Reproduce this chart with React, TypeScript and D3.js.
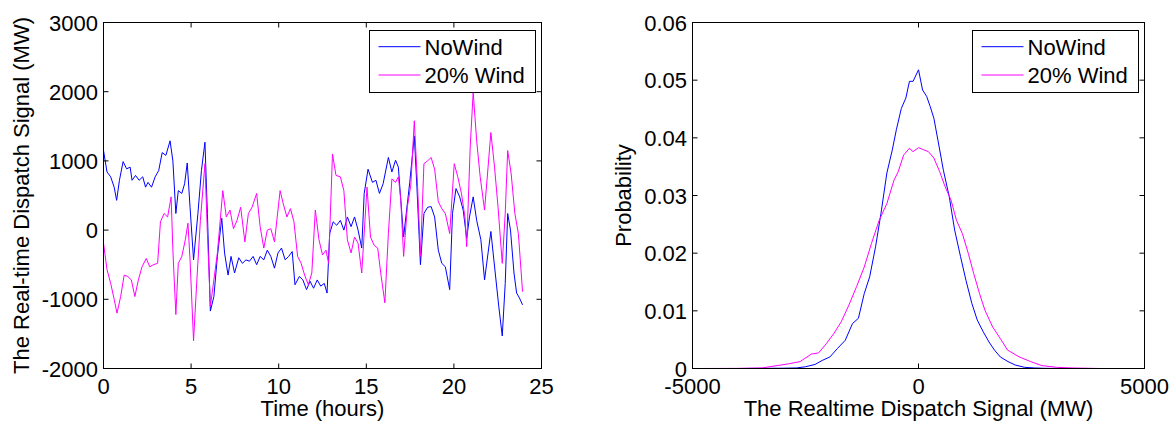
import React from 'react';
import * as d3 from 'd3';

// ---------- data ----------
const seriesNames = ['NoWind', '20% Wind'];
const seriesColors = ['#0000ff', '#ff00ff'];

const hoursNoWind = [0, 0.20, 0.41, 0.61, 0.75, 0.91, 1.12, 1.32, 1.52, 1.63, 1.83, 2.03, 2.24, 2.40, 2.54, 2.74, 2.95, 3.15, 3.35, 3.56, 3.80, 3.96, 4.13, 4.27, 4.47, 4.63, 4.78, 4.94, 5.14, 5.39, 5.59, 5.79, 5.93, 6.10, 6.30, 6.50, 6.75, 6.91, 7.11, 7.28, 7.48, 7.72, 7.93, 8.13, 8.33, 8.54, 8.74, 8.94, 9.15, 9.35, 9.55, 9.76, 9.96, 10.16, 10.37, 10.57, 10.77, 10.93, 11.18, 11.38, 11.59, 11.79, 11.99, 12.20, 12.40, 12.60, 12.76, 12.91, 13.11, 13.31, 13.52, 13.72, 13.92, 14.13, 14.33, 14.53, 14.74, 14.88, 15.10, 15.35, 15.55, 15.75, 15.96, 16.26, 16.46, 16.67, 16.83, 16.97, 17.13, 17.28, 17.48, 17.74, 17.89, 18.09, 18.29, 18.50, 18.70, 18.90, 19.11, 19.31, 19.51, 19.76, 19.92, 20.12, 20.33, 20.53, 20.73, 20.89, 21.10, 21.30, 21.54, 21.75, 21.95, 22.11, 22.36, 22.56, 22.76, 22.93, 23.07, 23.23, 23.43, 23.58, 23.74, 23.92];
const noWind = [1150, 840, 770, 620, 430, 720, 990, 885, 910, 720, 790, 720, 770, 620, 690, 620, 770, 860, 1120, 1080, 1290, 1000, 240, 570, 530, 670, 970, 330, -430, 240, 860, 1270, 240, -1170, -960, -380, 170, -330, -650, -380, -620, -400, -480, -430, -450, -380, -500, -380, -430, -290, -380, -550, -330, -260, -430, -380, -310, -790, -670, -720, -860, -740, -840, -720, -810, -770, -910, -50, 120, 70, 140, 0, 190, 50, 190, 0, -260, 530, 880, 690, 720, 530, 670, 1050, 840, 1010, 910, 430, -100, 240, 690, 1360, 620, -500, 240, 330, 340, 190, -290, -480, -530, -860, 240, 600, 480, 290, -120, 190, 480, 140, -140, -720, -330, -20, -620, -1100, -1530, -770, 240, 0, -620, -910, -980, -1080];

const hoursWind = [0, 0.20, 0.41, 0.61, 0.77, 0.98, 1.18, 1.38, 1.59, 1.79, 1.99, 2.20, 2.44, 2.64, 2.85, 3.09, 3.25, 3.46, 3.66, 3.86, 3.96, 4.13, 4.27, 4.47, 4.67, 4.82, 4.94, 5.14, 5.33, 5.53, 5.79, 5.93, 6.10, 6.30, 6.50, 6.81, 7.01, 7.22, 7.42, 7.62, 7.83, 8.07, 8.27, 8.48, 8.74, 8.94, 9.15, 9.35, 9.55, 9.76, 10.08, 10.26, 10.47, 10.67, 10.87, 11.08, 11.28, 11.48, 11.69, 11.89, 12.09, 12.30, 12.50, 12.70, 12.85, 13.07, 13.27, 13.52, 13.72, 13.92, 14.13, 14.33, 14.53, 14.74, 15.04, 15.24, 15.45, 15.65, 15.85, 16.06, 16.26, 16.46, 16.67, 16.83, 16.97, 17.13, 17.34, 17.54, 17.74, 17.93, 18.09, 18.29, 18.50, 18.70, 18.90, 19.11, 19.31, 19.51, 19.76, 20.02, 20.22, 20.43, 20.63, 20.73, 20.93, 21.10, 21.30, 21.50, 21.75, 21.95, 22.11, 22.32, 22.52, 22.76, 22.93, 23.07, 23.27, 23.48, 23.68, 23.92];
const wind20 = [-190, -570, -770, -1000, -1200, -960, -650, -670, -720, -960, -720, -530, -410, -530, -500, -480, 120, 240, 190, 480, -290, -1220, -480, -380, -140, 100, -430, -1600, -720, 140, 960, -50, -1100, -720, -330, 570, 190, 290, 20, 140, 330, -170, 240, 330, 530, 50, -260, 0, 20, -170, 570, 380, 190, 310, 120, -380, -480, -650, -790, -620, 290, -140, -360, -290, -480, 1100, 790, 770, 570, -140, -330, -100, -190, -620, 620, -100, -220, -260, -670, -1050, -50, 740, 690, 770, 430, -380, 330, 650, 1580, 620, -380, 960, 1000, 1050, 880, 410, 310, 240, -50, 960, 770, 530, 190, -240, 1200, 1990, 1290, 770, 290, 910, 1410, 910, 330, -480, 240, 1150, 810, 240, -50, -890];

const pdfXNoWind = [-4900, -4000, -3000, -2700, -2500, -2290, -2130, -1960, -1790, -1620, -1460, -1330, -1200, -1080, -950, -830, -700, -580, -490, -380, -280, -200, -120, 0, 90, 180, 260, 340, 430, 550, 680, 800, 930, 1050, 1180, 1300, 1430, 1560, 1680, 1810, 1980, 2140, 2350, 2560, 2800, 3200, 4000];
const pdfNoWind = [0, 0, 0.00005, 0.0001, 0.0003, 0.0007, 0.0014, 0.002, 0.0035, 0.0049, 0.0078, 0.0087, 0.013, 0.0159, 0.0211, 0.0269, 0.0339, 0.0379, 0.0414, 0.0451, 0.0469, 0.0498, 0.0498, 0.0518, 0.0483, 0.0472, 0.0454, 0.0434, 0.0396, 0.0344, 0.0298, 0.024, 0.0194, 0.0153, 0.0113, 0.0084, 0.0064, 0.0046, 0.0032, 0.002, 0.0012, 0.0006, 0.0002, 0.0001, 0.00003, 0, 0];

const pdfXWind = [-4900, -4000, -3460, -3130, -2880, -2620, -2370, -2210, -2040, -1870, -1710, -1540, -1370, -1200, -1040, -870, -700, -540, -450, -330, -200, -120, 0, 90, 220, 340, 470, 590, 720, 840, 970, 1100, 1220, 1350, 1470, 1640, 1810, 1970, 2230, 2480, 2730, 3060, 3400, 4000];
const pdfWind = [0, 0.00002, 0.0001, 0.0005, 0.0008, 0.0012, 0.0025, 0.0027, 0.0043, 0.0061, 0.0081, 0.011, 0.0142, 0.0176, 0.0217, 0.0257, 0.0286, 0.0327, 0.0341, 0.037, 0.0382, 0.0376, 0.0383, 0.038, 0.0376, 0.0365, 0.0341, 0.0315, 0.0292, 0.0257, 0.0234, 0.02, 0.0165, 0.013, 0.0101, 0.0072, 0.0052, 0.0032, 0.002, 0.0012, 0.0005, 0.0002, 0.0001, 0];

const leftXTicks = [0, 5, 10, 15, 20, 25];
const leftYTicks = [-2000, -1000, 0, 1000, 2000, 3000];
const rightXTicks = [-5000, 0, 5000];
const rightYTicks = [0, 0.01, 0.02, 0.03, 0.04, 0.05, 0.06];

const FONT = '"Liberation Sans", Arial, Helvetica, sans-serif';
const FS = 22;

type Series = { xs: number[]; ys: number[]; color: string; name: string };

interface PanelProps {
  x0: number; x1: number; y0: number; y1: number;
  xDomain: [number, number]; yDomain: [number, number];
  xTicks: number[]; yTicks: number[];
  xFmt: (v: number) => string; yFmt: (v: number) => string;
  series: Series[];
  xLabel: string; yLabel: string; yLabelX: number;
  legendX0: number; legendX1: number;
}

function Panel(p: PanelProps) {
  const xs = d3.scaleLinear().domain(p.xDomain).range([p.x0, p.x1]);
  const ys = d3.scaleLinear().domain(p.yDomain).range([p.y1, p.y0]);
  const tl = 5;
  const line = d3.line<[number, number]>().x(d => xs(d[0])).y(d => ys(d[1]));
  const lgTop = 30.5, lgBot = 92.5;
  const rowY = [46.7, 75];
  return (
    <g>
      {/* data */}
      {p.series.map((s, i) => (
        <path key={i} d={line(s.xs.map((x, j) => [x, s.ys[j]] as [number, number])) || ''}
          fill="none" stroke={s.color} strokeWidth={1} strokeLinejoin="round" />
      ))}
      {/* box */}
      <rect x={p.x0} y={p.y0} width={p.x1 - p.x0} height={p.y1 - p.y0} fill="none" stroke="#000" strokeWidth={1} />
      {/* x ticks */}
      {p.xTicks.map((t, i) => (
        <g key={'xt' + i}>
          <line x1={xs(t)} x2={xs(t)} y1={p.y1} y2={p.y1 - tl} stroke="#000" />
          <line x1={xs(t)} x2={xs(t)} y1={p.y0} y2={p.y0 + tl} stroke="#000" />
          <text x={xs(t)} y={393.5} textAnchor="middle" fontFamily={FONT} fontSize={FS}>{p.xFmt(t)}</text>
        </g>
      ))}
      {/* y ticks */}
      {p.yTicks.map((t, i) => (
        <g key={'yt' + i}>
          <line x1={p.x0} x2={p.x0 + tl} y1={ys(t)} y2={ys(t)} stroke="#000" />
          <line x1={p.x1} x2={p.x1 - tl} y1={ys(t)} y2={ys(t)} stroke="#000" />
          <text x={p.x0 - 5.5} y={ys(t) + 8} textAnchor="end" fontFamily={FONT} fontSize={FS}>{p.yFmt(t)}</text>
        </g>
      ))}
      {/* axis labels */}
      <text x={(p.x0 + p.x1) / 2} y={416} textAnchor="middle" fontFamily={FONT} fontSize={FS}>{p.xLabel}</text>
      <text transform={`translate(${p.yLabelX},${(p.y0 + p.y1) / 2}) rotate(-90)`} textAnchor="middle" fontFamily={FONT} fontSize={FS}>{p.yLabel}</text>
      {/* legend */}
      <rect x={p.legendX0} y={lgTop} width={p.legendX1 - p.legendX0} height={lgBot - lgTop} fill="#fff" stroke="#000" strokeWidth={1} />
      {p.series.map((s, i) => (
        <g key={'lg' + i}>
          <line x1={p.legendX0 + 9} x2={p.legendX0 + 51} y1={rowY[i]} y2={rowY[i]} stroke={s.color} strokeWidth={1} />
          <text x={p.legendX0 + 55} y={rowY[i] + 8} fontFamily={FONT} fontSize={FS}>{s.name}</text>
        </g>
      ))}
    </g>
  );
}

export default function App() {
  const leftSeries: Series[] = [
    { xs: hoursNoWind, ys: noWind, color: seriesColors[0], name: seriesNames[0] },
    { xs: hoursWind, ys: wind20, color: seriesColors[1], name: seriesNames[1] },
  ];
  const rightSeries: Series[] = [
    { xs: pdfXNoWind, ys: pdfNoWind, color: seriesColors[0], name: seriesNames[0] },
    { xs: pdfXWind, ys: pdfWind, color: seriesColors[1], name: seriesNames[1] },
  ];
  return (
    <svg width={1174} height={423} style={{ position: 'absolute', left: 0, top: 0, background: '#fff' }}>
      <rect x={0} y={0} width={1174} height={423} fill="#fff" />
      <Panel x0={103.5} x1={541.5} y0={22.5} y1={368.5}
        xDomain={[0, 25]} yDomain={[-2000, 3000]}
        xTicks={leftXTicks} yTicks={leftYTicks}
        xFmt={v => String(v)} yFmt={v => String(v)}
        series={leftSeries}
        xLabel="Time (hours)" yLabel="The Real-time Dispatch Signal (MW)" yLabelX={28.5}
        legendX0={369.5} legendX1={535.5} />
      <Panel x0={692.5} x1={1144.5} y0={22.5} y1={368.5}
        xDomain={[-5000, 5000]} yDomain={[0, 0.06]}
        xTicks={rightXTicks} yTicks={rightYTicks}
        xFmt={v => String(v)} yFmt={v => (v === 0 ? '0' : v.toFixed(2))}
        series={rightSeries}
        xLabel="The Realtime Dispatch Signal (MW)" yLabel="Probability" yLabelX={630.5}
        legendX0={972.5} legendX1={1138.5} />
    </svg>
  );
}
